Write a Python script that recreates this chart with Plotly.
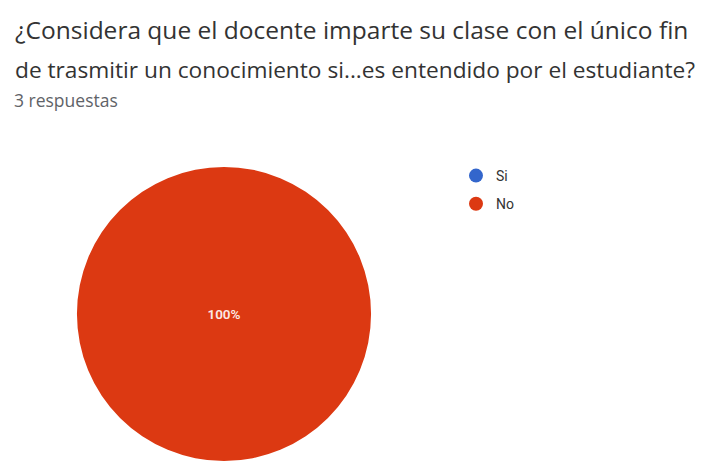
import plotly.graph_objects as go

# Survey answers
labels = ["Si", "No"]
counts = [0, 3]
colors = ["#3366cc", "#dc3912"]
slice_text = ["", "%{percent:.0%}"]

title_lines = [
    "¿Considera que el docente imparte su clase con el único fin",
    "de trasmitir un conocimiento si...es entendido por el estudiante?",
]
subtitle = "3 respuestas"

W, H = 702, 461
FONT = "Open Sans"

fig = go.Figure()

fig.add_trace(go.Pie(
    labels=labels,
    values=counts,
    marker=dict(colors=colors, line=dict(width=0)),
    sort=False,
    direction="clockwise",
    texttemplate=slice_text,
    textposition="inside",
    insidetextfont=dict(family="Roboto", size=13.5, color="#fbe9e5", weight=600),
    showlegend=False,
    hoverinfo="label+percent",
    domain=dict(x=[75 / W, 373 / W], y=[0, 1 - 167 / H]),
))

# Legend entries with round markers
for i, (lab, col) in enumerate(zip(labels, colors)):
    fig.add_trace(go.Scatter(
        x=[None], y=[None], mode="markers", name=lab,
        legendgroup=f"g{i}",
        marker=dict(color=col, size=14, symbol="circle"),
    ))

# Title and response count
title_y = [30, 69]
title_size = [24.5, 22.7]
for line, ty, ts in zip(title_lines, title_y, title_size):
    fig.add_annotation(
        text=line, xref="paper", yref="paper", x=13 / W, y=1 - ty / H,
        xanchor="left", yanchor="middle", showarrow=False,
        font=dict(family=FONT, size=ts, color="#333333"),
    )
fig.add_annotation(
    text=subtitle, xref="paper", yref="paper", x=12 / W, y=1 - 100 / H,
    xanchor="left", yanchor="middle", showarrow=False,
    font=dict(family=FONT, size=17.5, color="#5f6368", weight=500),
)

fig.update_layout(
    width=W, height=H,
    margin=dict(l=0, r=0, t=0, b=0),
    paper_bgcolor="white", plot_bgcolor="white",
    xaxis=dict(visible=False), yaxis=dict(visible=False),
    legend=dict(
        x=456 / W, y=1 - 160 / H, xanchor="left", yanchor="top",
        font=dict(family="Roboto", size=14, color="#333333"),
        tracegroupgap=7, bgcolor="rgba(0,0,0,0)",
    ),
)

fig.write_html("out.html")
